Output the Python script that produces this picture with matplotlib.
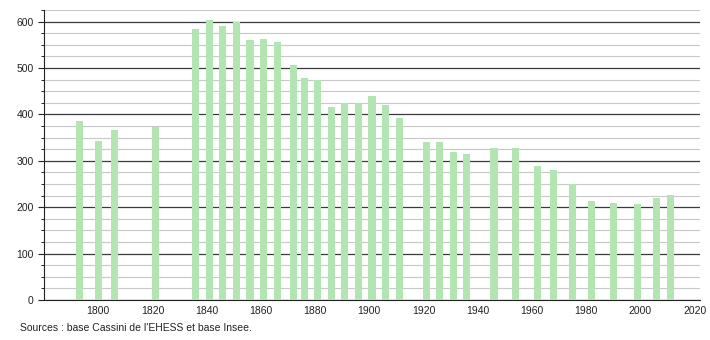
import matplotlib
matplotlib.use('Agg')
import matplotlib.pyplot as plt
from matplotlib.ticker import MultipleLocator

# Population by census year
years = [1793, 1800, 1806, 1821, 1836, 1841, 1846, 1851, 1856, 1861,
         1866, 1872, 1876, 1881, 1886, 1891, 1896, 1901, 1906, 1911,
         1921, 1926, 1931, 1936, 1946, 1954, 1962, 1968, 1975, 1982,
         1990, 1999, 2006, 2011]
population = [386, 343, 367, 372, 585, 604, 590, 600, 561, 563,
              555, 507, 479, 475, 417, 424, 424, 440, 420, 393,
              340, 340, 319, 315, 328, 328, 289, 281, 250, 214,
              209, 207, 219, 227]

x_ticks = list(range(1800, 2021, 20))
source_text = "Sources : base Cassini de l'EHESS et base Insee."

plt.rcParams['font.family'] = ['Liberation Sans', 'DejaVu Sans']

fig = plt.figure(figsize=(7.1, 3.4), dpi=100)
ax = fig.add_axes([44 / 710, 40 / 340, 656 / 710, 290 / 340])

# grid: minor every 25 (grey), major every 100 (dark)
ax.yaxis.set_major_locator(MultipleLocator(100))
ax.yaxis.set_minor_locator(MultipleLocator(25))
ax.grid(which='minor', axis='y', color='#c8c8c8', lw=0.8)
ax.grid(which='major', axis='y', color='#3a3a3a', lw=0.9)
ax.set_axisbelow(True)

ax.bar(years, population, width=2.6, color='#b3e5b3', zorder=3)

ax.set_xlim(1780, 2022)
ax.set_ylim(0, 625)
ax.set_xticks(x_ticks)
ax.tick_params(axis='x', length=0, labelsize=7.5, pad=4, colors='#222222')
ax.tick_params(axis='y', which='major', length=4, labelsize=7.5, colors='#222222')
ax.tick_params(axis='y', which='minor', length=2.5)

for side in ['top', 'right']:
    ax.spines[side].set_visible(False)
ax.spines['left'].set_color('#222222')
ax.spines['bottom'].set_color('#222222')

fig.text(20 / 710, 1 - 328 / 340, source_text, fontsize=7.5, va='center', color='#222222')

plt.savefig('out.png', dpi=100)
plt.close()
